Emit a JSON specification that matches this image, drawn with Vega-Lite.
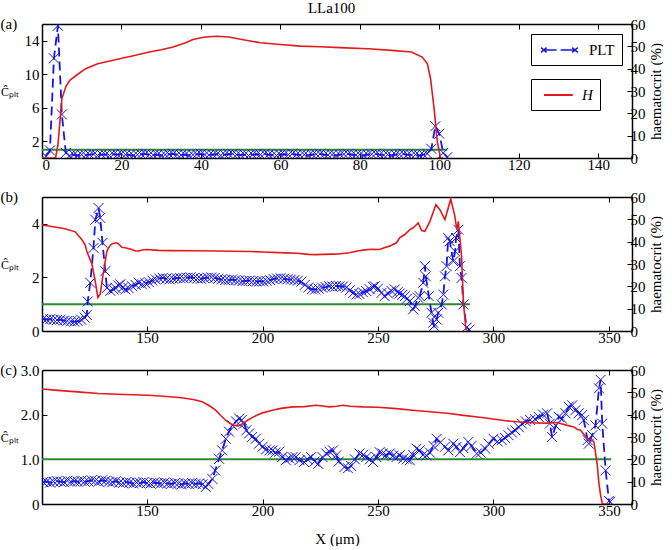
{
  "$schema": "https://vega.github.io/schema/vega-lite/v6.json",
  "background": "white",
  "padding": {"left": 0, "top": 1, "right": 0, "bottom": 0},
  "title": {"text": "LLa100", "font": "Liberation Serif", "fontSize": 15, "fontWeight": "normal", "color": "black", "anchor": "middle", "offset": 0, "dy": -1},
  "config": {
    "font": "Liberation Serif",
    "view": {"stroke": null},
    "style": {"guide-label": {"font": "Liberation Serif"}, "guide-title": {"font": "Liberation Serif"}},
    "axis": {
      "domainColor": "black", "domainWidth": 1.5, "tickColor": "black", "tickSize": -5, "tickWidth": 1,
      "labelFont": "Liberation Serif", "labelFontSize": 15, "labelColor": "black", "labelPadding": 4,
      "titleFont": "Liberation Serif", "titleFontSize": 15, "titleFontWeight": "normal", "titleColor": "black",
      "grid": false
    },
    "axisLeft": {"labelPadding": 8},
    "axisRight": {"labelPadding": 3},
    "legend": {
      "orient": "top-right", "title": null, "strokeColor": "black", "fillColor": "white", "padding": 7,
      "labelFont": "Liberation Serif", "labelFontSize": 15, "labelColor": "black", "offset": 10,
      "layout": {"direction": "vertical", "margin": 14, "anchor": "end"}
    }
  },
  "datasets": {
    "pa": [
      {"x":1,"c":0.2},{"x":2,"c":0.9},{"x":3,"c":11.9},{"x":4,"c":15.8},{"x":5,"c":5.2},{"x":6,"c":0.6},{"x":7,"c":0.3},
      {"x":8,"c":0.4},{"x":9,"c":0.3},{"x":10,"c":0.4},{"x":11,"c":0.35},{"x":12,"c":0.4},{"x":13,"c":0.45},{"x":14,"c":0.3},{"x":15,"c":0.4},{"x":16,"c":0.4},{"x":17,"c":0.3},
      {"x":18,"c":0.45},{"x":19,"c":0.4},{"x":20,"c":0.5},{"x":21,"c":0.4},{"x":22,"c":0.35},{"x":23,"c":0.3},{"x":24,"c":0.4},{"x":25,"c":0.45},{"x":26,"c":0.5},{"x":27,"c":0.4},
      {"x":28,"c":0.35},{"x":29,"c":0.4},{"x":30,"c":0.3},{"x":31,"c":0.4},{"x":32,"c":0.45},{"x":33,"c":0.5},{"x":34,"c":0.4},{"x":35,"c":0.35},{"x":36,"c":0.4},{"x":37,"c":0.3},
      {"x":38,"c":0.4},{"x":39,"c":0.45},{"x":40,"c":0.5},{"x":41,"c":0.4},{"x":42,"c":0.35},{"x":43,"c":0.4},{"x":44,"c":0.45},{"x":45,"c":0.3},{"x":46,"c":0.4},{"x":47,"c":0.45},
      {"x":48,"c":0.5},{"x":49,"c":0.4},{"x":50,"c":0.35},{"x":51,"c":0.4},{"x":52,"c":0.3},{"x":53,"c":0.4},{"x":54,"c":0.45},{"x":55,"c":0.4},{"x":56,"c":0.5},{"x":57,"c":0.4},
      {"x":58,"c":0.35},{"x":59,"c":0.3},{"x":60,"c":0.4},{"x":61,"c":0.45},{"x":62,"c":0.4},{"x":63,"c":0.5},{"x":64,"c":0.4},{"x":65,"c":0.35},{"x":66,"c":0.4},{"x":67,"c":0.3},
      {"x":68,"c":0.4},{"x":69,"c":0.45},{"x":70,"c":0.5},{"x":71,"c":0.4},{"x":72,"c":0.35},{"x":73,"c":0.4},{"x":74,"c":0.3},{"x":75,"c":0.4},{"x":76,"c":0.45},{"x":77,"c":0.5},
      {"x":78,"c":0.4},{"x":79,"c":0.35},{"x":80,"c":0.4},{"x":81,"c":0.3},{"x":82,"c":0.4},{"x":83,"c":0.45},{"x":84,"c":0.5},{"x":85,"c":0.4},{"x":86,"c":0.35},{"x":87,"c":0.4},
      {"x":88,"c":0.3},{"x":89,"c":0.4},{"x":90,"c":0.45},{"x":91,"c":0.5},{"x":92,"c":0.4},{"x":93,"c":0.35},{"x":94,"c":0.4},{"x":95,"c":0.3},{"x":96,"c":0.4},{"x":97,"c":0.5},
      {"x":98,"c":1.1},{"x":99,"c":3.8},{"x":100,"c":2.9},{"x":101,"c":0.6},{"x":102,"c":0.1}
    ],
    "ha": [
      {"x":0,"h":0},{"x":3.4,"h":0},{"x":4,"h":5.6},{"x":5,"h":26.5},{"x":6,"h":32},{"x":7,"h":34.8},{"x":9,"h":37.5},{"x":11,"h":40},{"x":14,"h":42.2},
      {"x":19,"h":44.2},{"x":23,"h":45.8},{"x":27,"h":47.5},{"x":30,"h":48.5},{"x":33,"h":49.7},{"x":36,"h":51.5},{"x":38,"h":53.1},{"x":41,"h":54.2},{"x":44,"h":54.5},
      {"x":47,"h":54.2},{"x":51,"h":52.8},{"x":55,"h":51.6},{"x":60,"h":50.8},{"x":65,"h":50.1},{"x":70,"h":49.8},{"x":75,"h":49.4},{"x":82,"h":48.9},{"x":88,"h":48.2},
      {"x":93,"h":47.5},{"x":95.7,"h":45.2},{"x":97,"h":42.2},{"x":97.8,"h":35.5},{"x":98.7,"h":22},{"x":99.5,"h":7.2},{"x":100.3,"h":0},{"x":101,"h":0}
    ],
    "ga": [{"x":0,"c":1},{"x":102,"c":1}],
    "pb": [
      {"x":105,"c":0.45},{"x":106.5,"c":0.43},{"x":108,"c":0.44},{"x":109.5,"c":0.42},{"x":111,"c":0.41},{"x":112.5,"c":0.42},{"x":114,"c":0.39},{"x":115.5,"c":0.38},
      {"x":117,"c":0.36},{"x":118.5,"c":0.35},{"x":120,"c":0.37},{"x":121.5,"c":0.42},{"x":123,"c":0.5},{"x":123.9,"c":0.6},{"x":124.3,"c":1.1},{"x":125.4,"c":1.8},
      {"x":126.8,"c":3.1},{"x":127.6,"c":4.15},{"x":129,"c":4.59},{"x":129.7,"c":4.22},{"x":130.7,"c":3.29},{"x":131.9,"c":2.23},{"x":132.6,"c":1.61},{"x":134.1,"c":1.5},
      {"x":135.5,"c":1.55},{"x":136.3,"c":1.61},{"x":137.5,"c":1.7},{"x":138.4,"c":1.74},{"x":139.5,"c":1.62},{"x":140.6,"c":1.55},{"x":142,"c":1.6},{"x":143.5,"c":1.67},
      {"x":145,"c":1.72},{"x":146.4,"c":1.8},{"x":147.8,"c":1.74},{"x":149.3,"c":1.78},{"x":150.8,"c":1.82},{"x":152.3,"c":1.88},{"x":153.8,"c":1.92},{"x":155.3,"c":1.96},
      {"x":156.8,"c":1.98},{"x":158.3,"c":1.95},{"x":159.8,"c":1.93},{"x":161.3,"c":1.95},{"x":162.8,"c":1.97},{"x":164.3,"c":1.98},{"x":165.8,"c":1.97},{"x":167.3,"c":1.99},
      {"x":168.8,"c":2.0},{"x":170.3,"c":1.98},{"x":171.8,"c":1.96},{"x":173.3,"c":1.95},{"x":174.8,"c":1.97},{"x":176.3,"c":1.99},{"x":177.8,"c":2.0},{"x":179.3,"c":1.98},
      {"x":180.8,"c":1.95},{"x":182.3,"c":1.92},{"x":183.8,"c":1.9},{"x":185.3,"c":1.9},{"x":186.8,"c":1.92},{"x":188.3,"c":1.9},{"x":189.8,"c":1.88},{"x":191.3,"c":1.86},
      {"x":192.8,"c":1.87},{"x":194.3,"c":1.88},{"x":195.8,"c":1.86},{"x":197.3,"c":1.85},{"x":198.8,"c":1.86},{"x":200.3,"c":1.85},{"x":201.8,"c":1.87},{"x":203.3,"c":1.9},
      {"x":204.8,"c":1.94},{"x":206.3,"c":1.96},{"x":207.8,"c":1.97},{"x":209.3,"c":1.95},{"x":210.8,"c":1.93},{"x":212.3,"c":1.92},{"x":213.8,"c":1.9},{"x":215.3,"c":1.88},
      {"x":216.8,"c":1.84},{"x":218.3,"c":1.72},{"x":219.8,"c":1.62},{"x":221.3,"c":1.56},{"x":222.8,"c":1.55},{"x":224.3,"c":1.58},{"x":225.8,"c":1.62},{"x":227.3,"c":1.64},
      {"x":228.8,"c":1.67},{"x":230.3,"c":1.66},{"x":231.8,"c":1.68},{"x":233.3,"c":1.67},{"x":234.8,"c":1.66},{"x":236.3,"c":1.62},{"x":237.8,"c":1.52},{"x":239.3,"c":1.42},
      {"x":240.6,"c":1.36},{"x":242,"c":1.38},{"x":243.5,"c":1.44},{"x":244.9,"c":1.49},{"x":246.4,"c":1.56},{"x":247.8,"c":1.65},{"x":248.6,"c":1.67},{"x":250,"c":1.58},
      {"x":251.5,"c":1.42},{"x":252.9,"c":1.3},{"x":254.3,"c":1.4},{"x":255.8,"c":1.5},{"x":257.3,"c":1.55},{"x":258.5,"c":1.45},{"x":259.4,"c":1.4},{"x":260.5,"c":1.35},
      {"x":261.6,"c":1.3},{"x":262.5,"c":1.2},{"x":263.8,"c":1.12},{"x":265.2,"c":0.81},{"x":266,"c":0.93},{"x":267.4,"c":1.24},{"x":268.1,"c":1.3},{"x":269.6,"c":1.8},
      {"x":270.3,"c":2.42},{"x":270.7,"c":2.04},{"x":272,"c":1.3},{"x":273.2,"c":0.68},{"x":273.9,"c":0.31},{"x":274.3,"c":0.19},{"x":275.4,"c":0.43},{"x":276.1,"c":0.68},
      {"x":277.6,"c":0.99},{"x":278.3,"c":1.36},{"x":279,"c":2.04},{"x":279.7,"c":2.42},{"x":280.4,"c":3.47},{"x":281.1,"c":3.35},{"x":282.6,"c":2.6},{"x":283.4,"c":2.97},
      {"x":283.8,"c":3.47},{"x":284.8,"c":3.78},{"x":285.5,"c":2.42},{"x":286.2,"c":1.98},{"x":287,"c":0.99},{"x":288.4,"c":0.13},{"x":289.6,"c":0.05}
    ],
    "hb": [
      {"x":104.5,"h":47.5},{"x":110,"h":46.6},{"x":114.5,"h":45.8},{"x":118.9,"h":44.4},{"x":121.7,"h":41},{"x":123.2,"h":38.5},{"x":123.9,"h":35.7},{"x":126.1,"h":30},
      {"x":127.6,"h":22},{"x":128.7,"h":15},{"x":129.7,"h":16.5},{"x":131.2,"h":27},{"x":132.6,"h":35.7},{"x":133.5,"h":37.5},{"x":134.5,"h":38.8},{"x":136.3,"h":39.5},
      {"x":137.5,"h":39.2},{"x":139.1,"h":37.5},{"x":141,"h":37.2},{"x":143.5,"h":36.5},{"x":145,"h":35.8},{"x":146.4,"h":35.8},{"x":148,"h":36.3},{"x":150,"h":36.5},
      {"x":155,"h":36.1},{"x":160,"h":36},{"x":170,"h":35.9},{"x":180,"h":35.8},{"x":187,"h":35.7},{"x":195,"h":35.6},{"x":200,"h":35.4},{"x":210,"h":35},{"x":215,"h":34.8},
      {"x":220,"h":34.3},{"x":223,"h":34.2},{"x":230,"h":34.4},{"x":233,"h":34.5},{"x":237.7,"h":35},{"x":241,"h":35.8},{"x":243.5,"h":36.2},{"x":247,"h":36.6},
      {"x":250.7,"h":36.5},{"x":253,"h":37.4},{"x":255,"h":38},{"x":258,"h":39.5},{"x":259.4,"h":41.7},{"x":261.6,"h":43.2},{"x":263.8,"h":45.4},{"x":265.2,"h":46.2},
      {"x":266,"h":46.9},{"x":267.4,"h":48.4},{"x":268.9,"h":45},{"x":270.3,"h":44.6},{"x":272.5,"h":49.1},{"x":275.1,"h":56.6},{"x":276.8,"h":54.3},{"x":279,"h":49.9},
      {"x":281.5,"h":59.1},{"x":283.3,"h":51.3},{"x":284.1,"h":45.4},{"x":284.8,"h":49.1},{"x":286.2,"h":33.5},{"x":287,"h":12.7},{"x":288.1,"h":0.8},{"x":288.7,"h":0}
    ],
    "gb": [{"x":104.5,"c":1},{"x":289.8,"c":1}],
    "pc": [
      {"x":105,"c":0.49},{"x":106.5,"c":0.5},{"x":108,"c":0.48},{"x":109.5,"c":0.5},{"x":111,"c":0.51},{"x":112.5,"c":0.5},{"x":114,"c":0.49},{"x":115.5,"c":0.52},
      {"x":117,"c":0.5},{"x":118.5,"c":0.51},{"x":120,"c":0.5},{"x":121.5,"c":0.52},{"x":123,"c":0.5},{"x":124.5,"c":0.51},{"x":126,"c":0.53},{"x":127.5,"c":0.52},
      {"x":129,"c":0.5},{"x":130.5,"c":0.53},{"x":132,"c":0.52},{"x":133.5,"c":0.5},{"x":135,"c":0.49},{"x":136.5,"c":0.51},{"x":138,"c":0.48},{"x":139.5,"c":0.47},
      {"x":141,"c":0.49},{"x":142.5,"c":0.48},{"x":144,"c":0.46},{"x":145.5,"c":0.48},{"x":147,"c":0.47},{"x":148.5,"c":0.49},{"x":150,"c":0.47},{"x":151.5,"c":0.46},
      {"x":153,"c":0.48},{"x":154.5,"c":0.47},{"x":156,"c":0.46},{"x":157.5,"c":0.48},{"x":159,"c":0.46},{"x":160.5,"c":0.45},{"x":162,"c":0.47},{"x":163.5,"c":0.46},
      {"x":165,"c":0.44},{"x":166.5,"c":0.46},{"x":168,"c":0.45},{"x":169.5,"c":0.47},{"x":171,"c":0.45},{"x":172.5,"c":0.46},{"x":174,"c":0.44},{"x":175.4,"c":0.38},
      {"x":176.5,"c":0.45},{"x":178.3,"c":0.56},{"x":179.5,"c":0.75},{"x":181.2,"c":1.01},{"x":182.5,"c":1.2},{"x":184.1,"c":1.46},{"x":185.5,"c":1.62},{"x":187,"c":1.76},
      {"x":188.5,"c":1.85},{"x":189.9,"c":1.91},{"x":191,"c":1.88},{"x":192,"c":1.8},{"x":193,"c":1.65},{"x":194.2,"c":1.58},{"x":195.5,"c":1.5},{"x":197.1,"c":1.46},
      {"x":198.5,"c":1.35},{"x":200,"c":1.28},{"x":201.5,"c":1.22},{"x":203,"c":1.2},{"x":204.3,"c":1.2},{"x":205.5,"c":1.15},{"x":207.2,"c":1.17},{"x":208.5,"c":1.05},
      {"x":210.1,"c":0.98},{"x":211.5,"c":1.02},{"x":213,"c":1.05},{"x":214.4,"c":1.05},{"x":216,"c":0.98},{"x":218,"c":0.94},{"x":219.5,"c":1.0},{"x":221,"c":1.05},
      {"x":222.5,"c":0.95},{"x":224.1,"c":0.9},{"x":226,"c":1.05},{"x":227.6,"c":1.13},{"x":229,"c":1.17},{"x":230.5,"c":1.2},{"x":231.9,"c":1.09},{"x":233,"c":0.95},
      {"x":235.5,"c":0.83},{"x":237,"c":0.8},{"x":238.4,"c":0.85},{"x":240,"c":1.0},{"x":242,"c":1.13},{"x":243.5,"c":1.1},{"x":244.9,"c":1.05},{"x":246.5,"c":1.0},
      {"x":247.8,"c":0.94},{"x":249.3,"c":1.05},{"x":250.7,"c":1.16},{"x":252,"c":1.13},{"x":253.5,"c":1.1},{"x":255.1,"c":1.13},{"x":256.5,"c":1.08},{"x":258,"c":1.05},
      {"x":259.4,"c":1.09},{"x":261,"c":1.02},{"x":262.5,"c":1.0},{"x":263.8,"c":0.98},{"x":265.2,"c":1.1},{"x":266.7,"c":1.24},{"x":268,"c":1.2},{"x":269.5,"c":1.1},
      {"x":271,"c":1.09},{"x":272.5,"c":1.15},{"x":274,"c":1.3},{"x":275.4,"c":1.46},{"x":277,"c":1.38},{"x":279,"c":1.28},{"x":280.5,"c":1.2},{"x":282.6,"c":1.35},
      {"x":284,"c":1.28},{"x":285.5,"c":1.16},{"x":287,"c":1.25},{"x":289.1,"c":1.39},{"x":290.5,"c":1.3},{"x":292.8,"c":1.13},{"x":294.5,"c":1.15},{"x":296.4,"c":1.24},
      {"x":298,"c":1.35},{"x":300,"c":1.46},{"x":301.8,"c":1.4},{"x":303.6,"c":1.43},{"x":305,"c":1.48},{"x":306.5,"c":1.54},{"x":308,"c":1.6},{"x":309.4,"c":1.65},
      {"x":311,"c":1.72},{"x":312.3,"c":1.8},{"x":314,"c":1.85},{"x":315.9,"c":1.88},{"x":318,"c":1.9},{"x":319.6,"c":1.95},{"x":321.5,"c":2.0},{"x":323.2,"c":2.03},
      {"x":324.4,"c":1.8},{"x":325.4,"c":1.5},{"x":327,"c":1.75},{"x":328.3,"c":1.95},{"x":329.7,"c":1.91},{"x":331.2,"c":2.03},{"x":332.6,"c":2.18},{"x":334.1,"c":2.21},
      {"x":335.5,"c":2.1},{"x":336.9,"c":2.03},{"x":338.4,"c":1.99},{"x":339.1,"c":1.88},{"x":340.8,"c":1.43},{"x":341.3,"c":1.35},{"x":342.8,"c":1.54},{"x":344.2,"c":1.76},
      {"x":345.7,"c":2.59},{"x":346.4,"c":2.78},{"x":347.1,"c":1.8},{"x":348.6,"c":0.75},{"x":350,"c":0.07},{"x":350.5,"c":0.05}
    ],
    "hc": [
      {"x":104.5,"h":51.5},{"x":110,"h":51},{"x":120,"h":50.2},{"x":129,"h":49.5},{"x":140,"h":49},{"x":150.7,"h":48.7},{"x":160,"h":48},{"x":164.9,"h":47.6},
      {"x":170,"h":46.8},{"x":173.9,"h":45.8},{"x":177,"h":44},{"x":179.7,"h":42},{"x":182,"h":39.5},{"x":184,"h":37.5},{"x":186,"h":36},{"x":187.7,"h":35.2},
      {"x":189.5,"h":35},{"x":191.3,"h":36},{"x":194,"h":37.8},{"x":197.1,"h":39.5},{"x":200,"h":40.8},{"x":204.3,"h":42},{"x":208,"h":42.8},{"x":213,"h":43.5},
      {"x":218,"h":43.6},{"x":223.2,"h":44.2},{"x":226,"h":43.9},{"x":229,"h":43.5},{"x":232,"h":43.8},{"x":234.8,"h":44.2},{"x":238,"h":43.8},{"x":243.5,"h":43.5},
      {"x":250,"h":43.3},{"x":258,"h":42.7},{"x":265,"h":42},{"x":272.5,"h":41.3},{"x":280,"h":40.6},{"x":287,"h":39.7},{"x":295,"h":38.7},{"x":301.5,"h":37.8},
      {"x":306,"h":37.2},{"x":310.2,"h":36.8},{"x":315,"h":36.5},{"x":318.9,"h":36.3},{"x":323,"h":36.2},{"x":327.6,"h":36.5},{"x":329,"h":36},{"x":331.9,"h":35.2},
      {"x":334.8,"h":34.5},{"x":336.3,"h":33.5},{"x":337.7,"h":33},{"x":340.6,"h":29.3},{"x":342.8,"h":28.5},{"x":343.5,"h":27.8},{"x":344.9,"h":18},{"x":345.7,"h":9},
      {"x":346.4,"h":4},{"x":347.1,"h":0.3},{"x":348,"h":0},{"x":350.7,"h":0}
    ],
    "gc": [{"x":104.5,"c":1},{"x":351,"c":1}]
  },
  "spacing": 18,
  "resolve": {"scale": {"color": "independent", "stroke": "independent"}},
  "vconcat": [
    {
      "width": 590, "height": 134,
      "title": {"text": "(a)", "anchor": "start", "frame": "bounds", "font": "Liberation Serif", "fontSize": 15, "fontWeight": "normal", "color": "black", "dy": 15, "offset": 0},
      "resolve": {"scale": {"y": "independent"}, "axis": {"x": "independent"}},
      "layer": [
        {
          "layer": [
            {"data": {"name": "ga"}, "mark": {"type": "line", "color": "#2e8b2e", "strokeWidth": 2, "clip": true},
             "encoding": {
               "x": {"field": "x", "type": "quantitative", "scale": {"domain": [0, 148.5], "nice": false, "zero": false}, "axis": {"values": [0,20,40,60,80,100,120,140], "title": null, "labelFont": "Liberation Serif"}},
               "y": {"field": "c", "type": "quantitative", "scale": {"domain": [0, 16], "nice": false}, "axis": {"values": [2,4,6,8,10,12,14,16], "labelFont": "Liberation Serif", "title": "Ĉₚₗₜ", "titleFont": "Liberation Serif", "titleFontSize": 12, "titleAngle": 0, "titleAlign": "right", "titleBaseline": "middle", "titlePadding": 5.5}}
             }},
            {"data": {"name": "pa"}, "mark": {"type": "line", "color": "#1515e6", "strokeDash": [9, 5], "strokeWidth": 1.8, "clip": true},
             "encoding": {"x": {"field": "x", "type": "quantitative"}, "y": {"field": "c", "type": "quantitative"}}},
            {"data": {"name": "pa"}, "mark": {"type": "point", "shape": "M-1,-1L1,1M-1,1L1,-1", "filled": false, "size": 100, "strokeWidth": 1, "opacity": 1, "clip": true},
             "encoding": {
               "x": {"field": "x", "type": "quantitative"}, "y": {"field": "c", "type": "quantitative"},
               "color": {"datum": "PLT", "scale": {"range": ["#1515e6"]},
                 "legend": {"symbolType": "M-0.75,-0.3L-0.05,0.3M-0.75,0.3L-0.05,-0.3M-0.4,0L1.2,0M1.7,0L3.5,0M3.15,-0.3L3.85,0.3M3.15,0.3L3.85,-0.3", "symbolSize": 256, "symbolStrokeWidth": 1.4, "symbolStrokeColor": "#1515e6", "symbolFillColor": "transparent", "labelOffset": 33, "labelExpr": "datum.label + '\u00a0\u00a0\u00a0'"}}
             }}
          ]
        },
        {"data": {"name": "ha"}, "mark": {"type": "line", "strokeWidth": 1.6, "clip": true},
         "encoding": {
           "x": {"field": "x", "type": "quantitative", "axis": {"orient": "top", "labels": false, "title": null, "values": [0,20,40,60,80,100,120,140]}},
           "y": {"field": "h", "type": "quantitative", "scale": {"domain": [0, 60], "nice": false}, "axis": {"orient": "right", "values": [0,10,20,30,40,50,60], "labelFont": "Liberation Serif", "title": "haematocrit (%)", "titleFont": "Liberation Serif", "titleAngle": 270, "titleBaseline": "top", "titlePadding": 3}},
           "stroke": {"datum": "H", "scale": {"range": ["#e31a1c"]}, "legend": {"symbolType": "M-0.375,0L3.225,0", "symbolSize": 256, "symbolStrokeWidth": 2, "symbolStrokeColor": "#e31a1c", "labelFontStyle": "italic", "labelOffset": 26, "labelExpr": "datum.label + '\u00a0\u00a0\u00a0\u00a0'"}}
         }}
      ]
    },
    {
      "width": 590, "height": 134,
      "title": {"text": "(b)", "anchor": "start", "frame": "bounds", "font": "Liberation Serif", "fontSize": 15, "fontWeight": "normal", "color": "black", "dy": 15, "offset": 0},
      "resolve": {"scale": {"y": "independent"}, "axis": {"x": "independent"}},
      "layer": [
        {
          "layer": [
            {"data": {"name": "gb"}, "mark": {"type": "line", "color": "#2e8b2e", "strokeWidth": 2, "clip": true},
             "encoding": {
               "x": {"field": "x", "type": "quantitative", "scale": {"domain": [104.5, 360], "nice": false, "zero": false}, "axis": {"values": [150,200,250,300,350], "title": null, "labelFont": "Liberation Serif"}},
               "y": {"field": "c", "type": "quantitative", "scale": {"domain": [0, 5], "nice": false}, "axis": {"values": [0,1,2,3,4,5], "labelFont": "Liberation Serif", "title": "Ĉₚₗₜ", "titleFont": "Liberation Serif", "titleFontSize": 12, "titleAngle": 0, "titleAlign": "right", "titleBaseline": "middle", "titlePadding": 13}}
             }},
            {"data": {"name": "pb"}, "mark": {"type": "line", "color": "#1515e6", "strokeDash": [9, 5], "strokeWidth": 1.8, "clip": true},
             "encoding": {"x": {"field": "x", "type": "quantitative"}, "y": {"field": "c", "type": "quantitative"}}},
            {"data": {"name": "pb"}, "mark": {"type": "point", "shape": "M-1,-1L1,1M-1,1L1,-1", "filled": false, "size": 100, "strokeWidth": 1, "opacity": 1, "color": "#1515e6", "clip": true},
             "encoding": {"x": {"field": "x", "type": "quantitative"}, "y": {"field": "c", "type": "quantitative"}}}
          ]
        },
        {"data": {"name": "hb"}, "mark": {"type": "line", "strokeWidth": 1.6, "color": "#e31a1c", "clip": true},
         "encoding": {
           "x": {"field": "x", "type": "quantitative", "axis": {"orient": "top", "labels": false, "title": null, "values": [150,200,250,300,350]}},
           "y": {"field": "h", "type": "quantitative", "scale": {"domain": [0, 60], "nice": false}, "axis": {"orient": "right", "values": [0,10,20,30,40,50,60], "labelFont": "Liberation Serif", "title": "haematocrit (%)", "titleFont": "Liberation Serif", "titleAngle": 270, "titleBaseline": "top", "titlePadding": 3}}
         }}
      ]
    },
    {
      "width": 590, "height": 134,
      "title": {"text": "(c)", "anchor": "start", "frame": "bounds", "font": "Liberation Serif", "fontSize": 15, "fontWeight": "normal", "color": "black", "dy": 15, "offset": 0},
      "resolve": {"scale": {"y": "independent"}, "axis": {"x": "independent"}},
      "layer": [
        {
          "layer": [
            {"data": {"name": "gc"}, "mark": {"type": "line", "color": "#2e8b2e", "strokeWidth": 2, "clip": true},
             "encoding": {
               "x": {"field": "x", "type": "quantitative", "scale": {"domain": [104.5, 360], "nice": false, "zero": false}, "axis": {"values": [150,200,250,300,350], "labelFont": "Liberation Serif", "title": "X (μm)", "titleFont": "Liberation Serif", "titlePadding": 13}},
               "y": {"field": "c", "type": "quantitative", "scale": {"domain": [0, 3], "nice": false}, "axis": {"values": [0,0.5,1,1.5,2,2.5,3], "labelExpr": "datum.value == 0 ? '0' : format(datum.value, '.1f')", "labelFont": "Liberation Serif", "title": "Ĉₚₗₜ", "titleFont": "Liberation Serif", "titleFontSize": 12, "titleAngle": 0, "titleAlign": "right", "titleBaseline": "middle", "titlePadding": 2}}
             }},
            {"data": {"name": "pc"}, "mark": {"type": "line", "color": "#1515e6", "strokeDash": [9, 5], "strokeWidth": 1.8, "clip": true},
             "encoding": {"x": {"field": "x", "type": "quantitative"}, "y": {"field": "c", "type": "quantitative"}}},
            {"data": {"name": "pc"}, "mark": {"type": "point", "shape": "M-1,-1L1,1M-1,1L1,-1", "filled": false, "size": 100, "strokeWidth": 1, "opacity": 1, "color": "#1515e6", "clip": true},
             "encoding": {"x": {"field": "x", "type": "quantitative"}, "y": {"field": "c", "type": "quantitative"}}}
          ]
        },
        {"data": {"name": "hc"}, "mark": {"type": "line", "strokeWidth": 1.6, "color": "#e31a1c", "clip": true},
         "encoding": {
           "x": {"field": "x", "type": "quantitative", "axis": {"orient": "top", "labels": false, "title": null, "values": [150,200,250,300,350]}},
           "y": {"field": "h", "type": "quantitative", "scale": {"domain": [0, 60], "nice": false}, "axis": {"orient": "right", "values": [0,10,20,30,40,50,60], "labelFont": "Liberation Serif", "title": "haematocrit (%)", "titleFont": "Liberation Serif", "titleAngle": 270, "titleBaseline": "top", "titlePadding": 3}}
         }}
      ]
    }
  ]
}
